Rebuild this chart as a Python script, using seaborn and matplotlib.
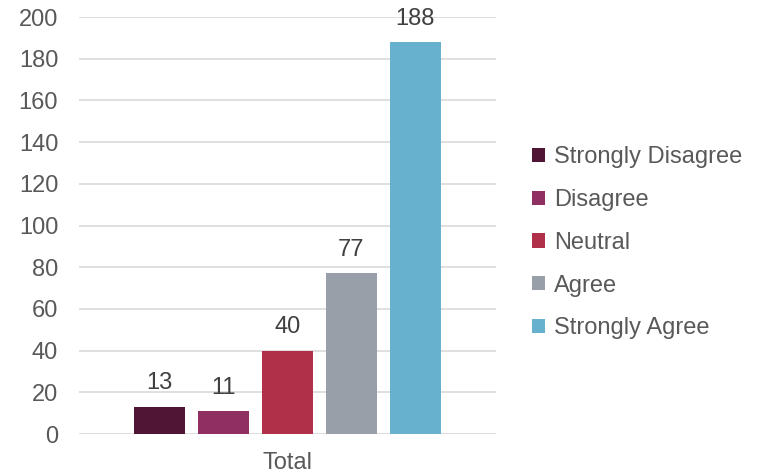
import pandas as pd
import matplotlib.pyplot as plt
import seaborn as sns

# Data
responses = ["Strongly Disagree", "Disagree", "Neutral", "Agree", "Strongly Agree"]
counts = [13, 11, 40, 77, 188]
group = ["Total"] * len(responses)
colors = ["#501434", "#8F2F62", "#B0304A", "#999FA9", "#67B0CE"]

df = pd.DataFrame({"group": group, "response": responses, "count": counts})

sns.set_theme(style="white")
plt.rcParams["font.family"] = ["Liberation Sans", "DejaVu Sans"]
text_color = "#595959"

fig = plt.figure(figsize=(7.63, 4.76), dpi=100)
ax = fig.add_axes([0.1035, 0.0882, 0.5465, 0.8760])

sns.barplot(data=df, x="group", y="count", hue="response", hue_order=responses,
            palette=colors, width=0.767, gap=0.2, saturation=1, linewidth=0,
            ax=ax)

# value labels
for container in ax.containers:
    ax.bar_label(container, padding=9, fontsize=17, color="#404040")

ax.set_ylim(0, 200)
ax.set_yticks(range(0, 201, 20))
ax.set_xlim(-0.5, 0.5)
ax.yaxis.grid(True, color="#D9D9D9", linewidth=1.2)
ax.set_axisbelow(True)
for s in ax.spines.values():
    s.set_visible(False)
ax.tick_params(axis="both", length=0, labelsize=17, colors=text_color)
ax.tick_params(axis="y", pad=15)
ax.tick_params(axis="x", pad=13)
ax.set_xlabel("")
ax.set_ylabel("")

# legend to the right
handles, labels = ax.get_legend_handles_labels()
ax.legend(handles, labels, loc="center left", bbox_to_anchor=(0.669, 0.49),
          bbox_transform=fig.transFigure, frameon=False, fontsize=17,
          labelcolor=text_color, handlelength=0.55, handleheight=0.55,
          handletextpad=0.4, labelspacing=0.88)

fig.savefig("out.png", dpi=100)
